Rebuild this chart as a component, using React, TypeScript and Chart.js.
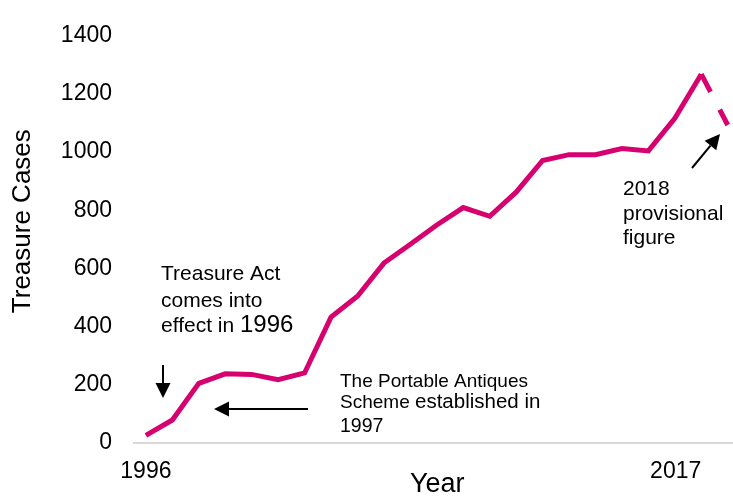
import React, { useEffect, useRef } from "react";
import { Chart, registerables } from "chart.js";

Chart.register(...registerables);

// ---- data ----
const years = [
  1996, 1997, 1998, 1999, 2000, 2001, 2002, 2003, 2004, 2005, 2006, 2007,
  2008, 2009, 2010, 2011, 2012, 2013, 2014, 2015, 2016, 2017, 2018,
];
const treasureCases = [
  25, 78, 204, 237, 235, 217, 240, 432, 504, 618, 683, 749,
  809, 779, 862, 971, 991, 991, 1012, 1004, 1116, 1268, 1093,
];
const xTickYears = [1996, 2017];
const yTicks = [0, 200, 400, 600, 800, 1000, 1200, 1400];
const provisionalYear = 2018;

const FONT = "'Liberation Sans', Arial, sans-serif";
const LINE_COLOR = "#D6006F";

const annotationPlugin = {
  id: "annotations",
  afterDraw(chart: any) {
    const ctx = chart.ctx as CanvasRenderingContext2D;
    ctx.save();
    ctx.fillStyle = "#000";
    ctx.strokeStyle = "#000";
    ctx.textBaseline = "alphabetic";
    ctx.textAlign = "left";

    const text = (parts: [string, number][], x: number, y: number) => {
      let cx = x;
      for (const [s, size] of parts) {
        ctx.font = `${size}px ${FONT}`;
        ctx.fillText(s, cx, y);
        cx += ctx.measureText(s).width;
      }
    };

    // Treasure Act
    text([["Treasure Act", 21]], 161, 280);
    text([["comes into", 21]], 161, 306.5);
    text([["effect in ", 21], ["1996", 24]], 161, 332);

    // Portable Antiques Scheme
    text([["The Portable Antiques", 19]], 340, 386.5);
    text([["Scheme ", 19], ["established in", 20.5]], 340, 408);
    text([["1997", 19.5]], 340, 431.5);

    // provisional
    text([["2018", 21]], 623, 195);
    text([["provisional", 21]], 623, 220);
    text([["figure", 21]], 623, 243.5);

    const arrow = (x1: number, y1: number, x2: number, y2: number) => {
      const ang = Math.atan2(y2 - y1, x2 - x1);
      const headLen = 15;
      const headHalf = 7.5;
      const bx = x2 - headLen * Math.cos(ang);
      const by = y2 - headLen * Math.sin(ang);
      ctx.lineWidth = 2;
      ctx.beginPath();
      ctx.moveTo(x1, y1);
      ctx.lineTo(bx, by);
      ctx.stroke();
      ctx.beginPath();
      ctx.moveTo(x2, y2);
      ctx.lineTo(bx + headHalf * Math.sin(ang), by - headHalf * Math.cos(ang));
      ctx.lineTo(bx - headHalf * Math.sin(ang), by + headHalf * Math.cos(ang));
      ctx.closePath();
      ctx.fill();
    };
    arrow(163, 365, 163, 398);
    arrow(308, 409, 214, 409);
    arrow(692, 168, 720, 134);

    ctx.restore();
  },
};

export default function App() {
  const ref = useRef<HTMLCanvasElement | null>(null);

  useEffect(() => {
    document.body.style.margin = "0";
    if (!ref.current) return;
    const lastIdx = years.indexOf(provisionalYear);
    const chart = new Chart(ref.current, {
      type: "line",
      data: {
        datasets: [
          {
            label: "Treasure Cases",
            data: years.map((y, i) => ({ x: y, y: treasureCases[i] })),
            borderColor: LINE_COLOR,
            backgroundColor: LINE_COLOR,
            borderWidth: 5,
            pointRadius: 0,
            tension: 0,
            fill: false,
            clip: false as any,
            borderCapStyle: "butt",
            segment: {
              borderDash: (c: any) => (c.p1DataIndex === lastIdx ? [20, 20] : undefined),
            },
          },
        ],
      },
      options: {
        responsive: false,
        animation: false,
        layout: { padding: { top: 23, left: 0, right: 0, bottom: 0 } },
        plugins: {
          legend: { display: false },
          tooltip: { enabled: false },
        },
        scales: {
          x: {
            type: "linear",
            min: 1995.55,
            max: 2018.2,
            grid: { display: false, drawTicks: false },
            border: { display: true, color: "#d9d9d9", width: 2 },
            afterBuildTicks: (scale: any) => {
              scale.ticks = xTickYears.map((v) => ({ value: v }));
            },
            afterFit: (scale: any) => {
              scale.height = 54.3;
              scale.paddingLeft = 0;
              scale.paddingRight = 0;
            },
            ticks: {
              autoSkip: false,
              maxRotation: 0,
              minRotation: 0,
              padding: 15,
              color: "#000",
              font: { family: FONT, size: 23 },
              callback: (v: any) =>
                v === 2017 ? String(v) + "        " : String(v),
            },
            title: {
              display: true,
              text: " Year",
              color: "#000",
              font: { family: FONT, size: 27, lineHeight: 0.9 },
              padding: 0,
            },
          },
          y: {
            min: 0,
            max: 1400,
            grid: { display: false, drawTicks: false },
            border: { display: false },
            afterBuildTicks: (scale: any) => {
              scale.ticks = yTicks.map((v) => ({ value: v }));
            },
            afterFit: (scale: any) => {
              scale.width = 134;
            },
            ticks: {
              padding: 22,
              color: "#000",
              font: { family: FONT, size: 23 },
              callback: (v: any) => String(v),
            },
            title: {
              display: true,
              text: "     Treasure Cases",
              color: "#000",
              font: { family: FONT, size: 26 },
              padding: { top: 7, bottom: 0 },
            },
          },
        },
      },
      plugins: [annotationPlugin],
    });
    return () => chart.destroy();
  }, []);

  return (
    <div style={{ position: "fixed", left: 0, top: 0, width: 733, height: 497, background: "#fff" }}>
      <canvas ref={ref} width={733} height={497} style={{ display: "block" }} />
    </div>
  );
}
